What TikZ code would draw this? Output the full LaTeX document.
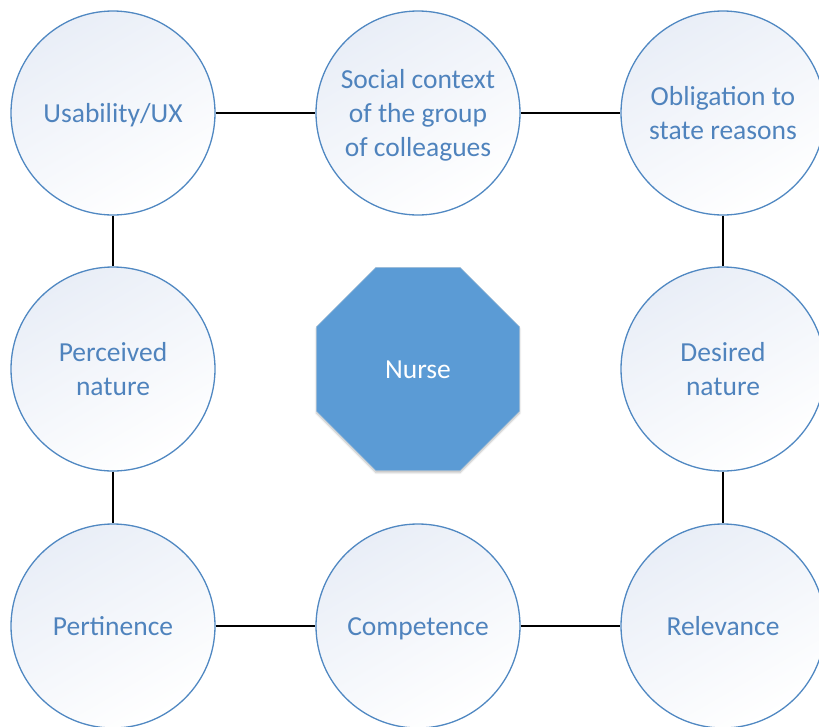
\documentclass[tikz,border=0pt]{standalone}
\usepackage{fontspec}
\setmainfont{Carlito}
\usetikzlibrary{shapes.geometric,shadows.blur}
\definecolor{ringblue}{HTML}{5088C2}
\definecolor{txtblue}{HTML}{4F83BD}
\definecolor{octblue}{HTML}{5B9BD5}
\definecolor{fillA}{HTML}{E9EEF7}
\newcommand{\tophi}{\rule{0pt}{28.5pt}}
\tikzset{
  topic/.style={circle, draw=ringblue, line width=1.3pt, minimum size=204pt, inner sep=0pt,
    shading=axis, top color=fillA, bottom color=white, shading angle=30,
    text=txtblue, align=center, font=\fontsize{27.5}{34}\selectfont},
  hub/.style={regular polygon, regular polygon sides=8, minimum size=220pt, inner sep=0pt,
    fill=octblue, draw=octblue!70!gray!60, line width=0.6pt, text=white,
    font=\fontsize{27.5}{34}\selectfont,
    blur shadow={shadow xshift=0pt, shadow yshift=-2pt, shadow blur steps=6, shadow opacity=25}},
  link/.style={draw=black, line width=1.2pt}
}
\begin{document}
\begin{tikzpicture}[x=1pt,y=-1pt]
\useasboundingbox (0,0) rectangle (819,726);
\node[hub] (nurse) at (418,369) {\tophi Nurse\strut};
\node[topic] (ux) at (113,113) {\tophi Usability/UX\strut};
\node[topic] (soc) at (418,113) {\tophi Social context\\of the group\\of colleagues\strut};
\node[topic] (obl) at (723,113) {\tophi Obligation to\\state reasons\strut};
\node[topic] (per) at (113,369) {\tophi Perceived\\nature\strut};
\node[topic] (des) at (723,369) {\tophi Desired\\nature\strut};
\node[topic] (pert) at (113,626) {\tophi Pertinence\strut};
\node[topic] (comp) at (418,626) {\tophi Competence\strut};
\node[topic] (rel) at (723,626) {\tophi Relevance\strut};
\draw[link] (ux) -- (soc);
\draw[link] (soc) -- (obl);
\draw[link] (ux) -- (per);
\draw[link] (per) -- (pert);
\draw[link] (obl) -- (des);
\draw[link] (des) -- (rel);
\draw[link] (pert) -- (comp);
\draw[link] (comp) -- (rel);
\end{tikzpicture}
\end{document}
